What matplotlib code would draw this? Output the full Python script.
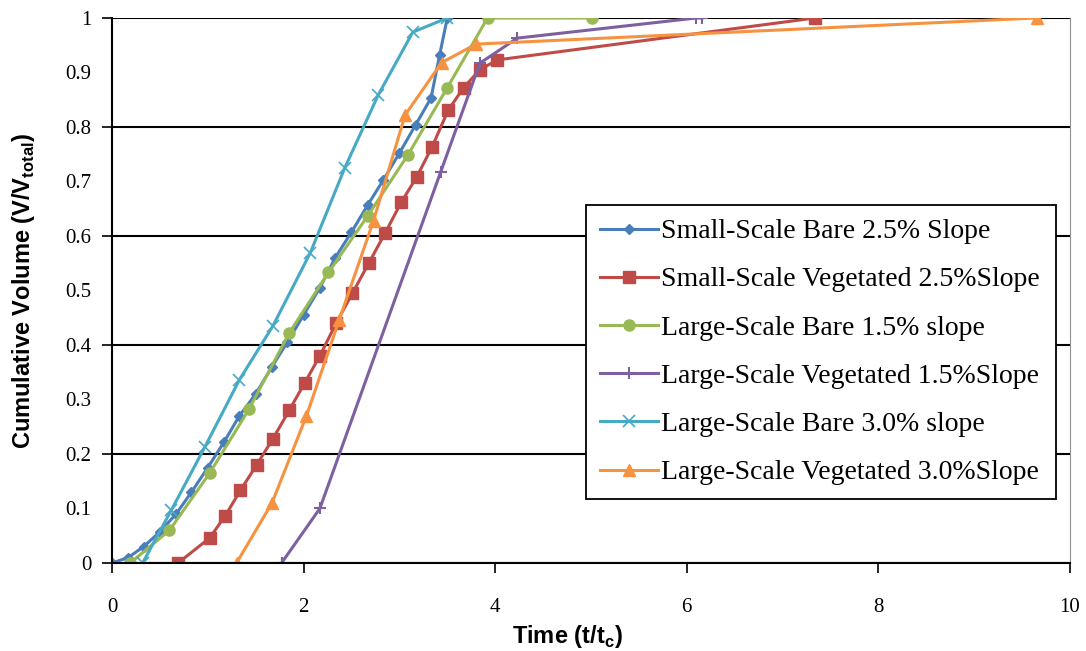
"""Cumulative runoff volume against normalised time for six plot setups."""

import numpy as np
import matplotlib
matplotlib.use('Agg')
import matplotlib.pyplot as plt

plt.rcParams['font.family'] = ['Liberation Serif', 'DejaVu Serif']

# series
labels = ['Small-Scale Bare 2.5% Slope',
          'Small-Scale Vegetated 2.5%Slope',
          'Large-Scale Bare 1.5% slope',
          'Large-Scale Vegetated 1.5%Slope',
          'Large-Scale Bare 3.0% slope',
          'Large-Scale Vegetated 3.0%Slope']

ssb_t = [0, 0.17, 0.33, 0.5, 0.67, 0.83, 1.0, 1.17, 1.33, 1.5, 1.67, 1.83,
         2.0, 2.17, 2.33, 2.5, 2.67, 2.83, 3.0, 3.17, 3.33, 3.42, 3.5]
ssb_v = [0, 0.01, 0.03, 0.057, 0.09, 0.13, 0.175, 0.222, 0.27, 0.31, 0.36, 0.405,
         0.455, 0.505, 0.56, 0.607, 0.657, 0.702, 0.752, 0.804, 0.853, 0.932, 1.0]

ssv_t = [0.69, 1.02, 1.18, 1.34, 1.51, 1.68, 1.85, 2.01, 2.17, 2.34, 2.51,
         2.68, 2.85, 3.02, 3.18, 3.34, 3.51, 3.67, 3.84, 4.02, 7.34]
ssv_v = [0, 0.046, 0.086, 0.133, 0.18, 0.228, 0.28, 0.33, 0.38, 0.44, 0.495,
         0.55, 0.605, 0.662, 0.708, 0.763, 0.831, 0.872, 0.905, 0.923, 1.0]

lsb15_t = [0.19, 0.6, 1.02, 1.43, 1.85, 2.26, 2.67, 3.09, 3.5, 3.92, 5.01]
lsb15_v = [0, 0.06, 0.165, 0.282, 0.422, 0.533, 0.637, 0.749, 0.872, 1.0, 1.0]

lsv15_t = [1.77, 2.17, 3.43, 3.84, 4.23, 6.1, 6.16]
lsv15_v = [0, 0.1, 0.717, 0.917, 0.963, 1.0, 1.0]

lsb30_t = [0.32, 0.62, 0.97, 1.33, 1.68, 2.07, 2.43, 2.78, 3.14, 3.5]
lsb30_v = [0, 0.097, 0.213, 0.336, 0.435, 0.569, 0.725, 0.859, 0.974, 1.0]

lsv30_t = [1.3, 1.67, 2.03, 2.37, 2.73, 3.06, 3.44, 3.8, 9.65]
lsv30_v = [0, 0.11, 0.27, 0.445, 0.628, 0.822, 0.918, 0.952, 1.0]

fig = plt.figure(figsize=(10.86, 6.51), dpi=100)
ax = fig.add_axes([0.1031, 0.1352, 0.8822, 0.8372])

lw = 2.2
ax.plot(ssb_t, ssb_v, color='#4a7ebb', lw=lw, marker='D', ms=5, label=labels[0])
ax.plot(ssv_t, ssv_v, color='#be4b48', lw=lw, marker='s', ms=8, label=labels[1])
ax.plot(lsb15_t, lsb15_v, color='#98b954', lw=lw, marker='o', ms=8, label=labels[2])
ax.plot(lsv15_t, lsv15_v, color='#7d60a0', lw=lw, marker='+', ms=8, mew=1.5, label=labels[3])
ax.plot(lsb30_t, lsb30_v, color='#46aac5', lw=lw, marker='x', ms=8, mew=1.2, label=labels[4])
ax.plot(lsv30_t, lsv30_v, color='#f69240', lw=lw, marker='^', ms=8, label=labels[5])

ax.set_xlim(0, 10)
ax.set_ylim(0, 1)
ax.set_xticks(np.arange(0, 11, 2))
ax.set_yticks(np.arange(0, 1.01, 0.2))
ax.set_yticks(np.arange(0.1, 1.0, 0.2), minor=True)
ax.set_yticklabels(['0', '0.2', '0.4', '0.6', '0.8', '1'])
ax.set_yticklabels(['0.1', '0.3', '0.5', '0.7', '0.9'], minor=True)
ax.tick_params(axis='both', which='major', direction='out', length=7, width=1.2,
               labelsize=15, pad=8)
ax.tick_params(axis='y', which='minor', length=0, labelsize=15, pad=15)
ax.tick_params(axis='x', pad=18)

ax.grid(axis='y', which='major', color='black', lw=1.5)
ax.set_axisbelow(True)
ax.spines['top'].set_visible(False)
ax.spines['right'].set_color('#909090')
ax.spines['left'].set_linewidth(1.5)
ax.spines['bottom'].set_linewidth(1.5)

ax.set_xlabel(r'Time (t/t$_\mathregular{c}$)', fontweight='bold', fontsize=17,
              family='Liberation Sans')
ax.xaxis.set_label_coords(0.475, -0.11)
ax.set_ylabel(r'Cumulative Volume (V/V$_\mathregular{total}$)', fontweight='bold',
              fontsize=17, family='Liberation Sans')
ax.yaxis.set_label_coords(-0.078, 0.5)

leg = ax.legend(loc='upper left', bbox_to_anchor=(0.495, 0.657, 0.49, 0.0),
                mode='expand', fontsize=20, numpoints=1, handlelength=2.1,
                handletextpad=0.1, labelspacing=0.82, borderpad=0.5,
                fancybox=False, framealpha=1, edgecolor='black', borderaxespad=0)
leg.get_frame().set_linewidth(1.3)

plt.savefig('out.png', dpi=100)
